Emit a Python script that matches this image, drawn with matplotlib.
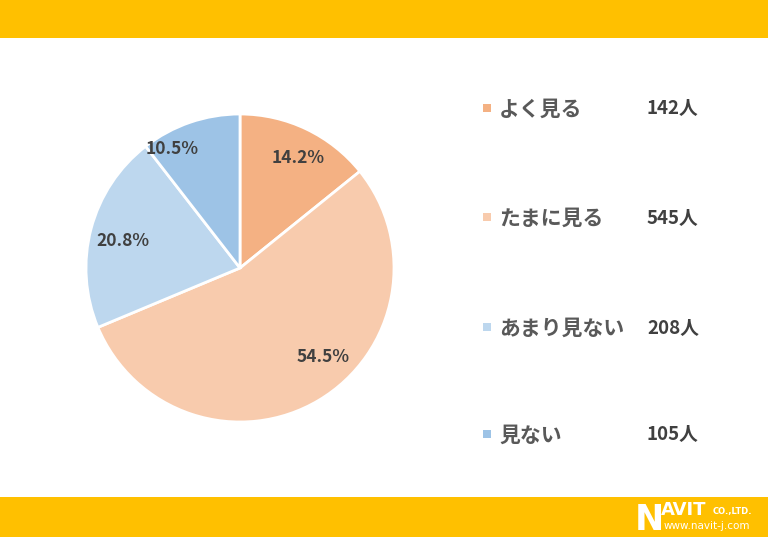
import numpy as np
import matplotlib.pyplot as plt
from matplotlib.patches import Rectangle

plt.rcParams['font.family'] = ['Noto Sans CJK JP', 'DejaVu Sans']

# データ
categories = ["よく見る", "たまに見る", "あまり見ない", "見ない"]
counts = [142, 545, 208, 105]
percents = [14.2, 54.5, 20.8, 10.5]
colors = ["#F4B183", "#F8CBAD", "#BDD7EE", "#9DC3E6"]

W, H = 768, 537
fig = plt.figure(figsize=(W / 100, H / 100), dpi=100)
fig.patch.set_facecolor("white")

# 上下の帯
bg = fig.add_axes([0, 0, 1, 1])
bg.set_xlim(0, W)
bg.set_ylim(H, 0)
bg.axis("off")
bg.add_patch(Rectangle((0, 0), W, 38, color="#FFC000", lw=0))
bg.add_patch(Rectangle((0, 497), W, 40, color="#FFC000", lw=0))

# ロゴ
bg.text(635, 530, "N", color="white", fontsize=25, fontweight="bold",
        family="DejaVu Sans", va="baseline")
bg.text(661, 515, "AVIT", color="white", fontsize=13, fontweight="bold",
        family="DejaVu Sans", va="baseline")
bg.text(713, 514, "CO.,LTD.", color="white", fontsize=6, fontweight="bold",
        family="DejaVu Sans", va="baseline")
bg.text(664, 529, "www.navit-j.com", color="white", fontsize=7.5,
        family="DejaVu Sans", va="baseline")

# 円グラフ
cx, cy, r = 240, 268, 154
ax = fig.add_axes([(cx - r) / W, (H - cy - r) / H, 2 * r / W, 2 * r / H])
wedges, _, autotexts = ax.pie(
    percents, colors=colors, startangle=90, counterclock=False,
    autopct=lambda p: f"{p:.1f}%", pctdistance=0.8,
    wedgeprops=dict(edgecolor="white", linewidth=2),
    textprops=dict(color="#404040", fontsize=12.5, fontweight="bold"))
ax.set_xlim(-1, 1)
ax.set_ylim(-1, 1)
ax.set_aspect("equal")

# ラベル位置の微調整（角度, 半径）
label_pos = [(62.0, 0.81), (-47, 0.79), (167.0, 0.78), (119.5, 0.89)]
for t, (a, d) in zip(autotexts, label_pos):
    t.set_position((d * np.cos(np.radians(a)), d * np.sin(np.radians(a))))

# 凡例
rows_y = [107, 216, 326, 433]
for cat, n, c, y in zip(categories, counts, colors, rows_y):
    bg.add_patch(Rectangle((483, y - 3), 8, 8, color=c, lw=0))
    bg.text(499, y + 2, cat, color="#595959", fontsize=15, fontweight="bold",
            va="center", ha="left")
    bg.text(647, y + 2, f"{n}人", color="#404040", fontsize=13.5, fontweight="bold",
            va="center", ha="left")

fig.savefig("out.png", dpi=100)
